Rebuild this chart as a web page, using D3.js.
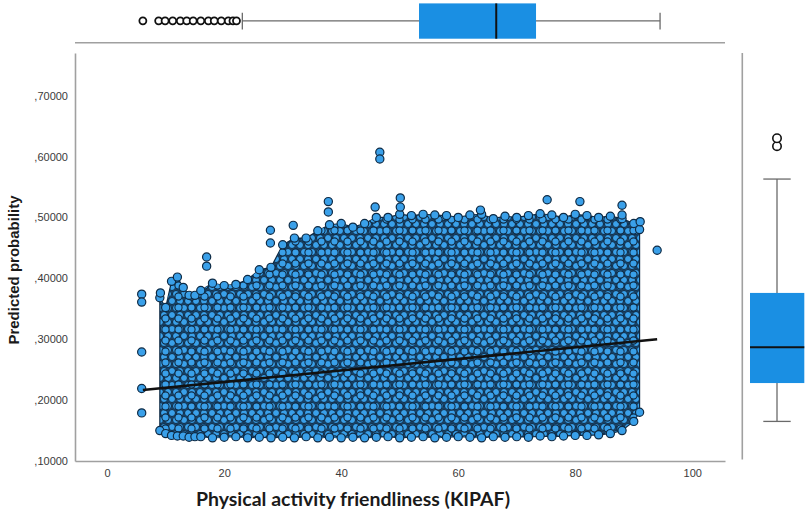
<!DOCTYPE html>
<html>
<head>
<meta charset="utf-8">
<script src="https://cdn.jsdelivr.net/npm/d3@7"></script>
<style>
  body { margin: 0; background: #fff; }
  svg.vis { display: block; font-family: "Liberation Sans", Arial, sans-serif; }
</style>
</head>
<body>
<svg class="vis" width="810" height="522"></svg>
<script>

// ---- values ----

const xTicks = [0, 20, 40, 60, 80, 100];
const yTicks = [0.1, 0.2, 0.3, 0.4, 0.5, 0.6, 0.7];

// dense cloud of cases: per KIPAF column, highest and lowest predicted probability
const cloudX = [9, 10, 11, 12, 13, 14, 15, 16, 18, 20, 22, 24, 26, 28, 30, 32, 34, 36, 38, 40,
                42, 44, 46, 48, 50, 52, 54, 56, 58, 60, 62, 64, 66, 68, 70, 72, 74, 76, 78, 80,
                82, 84, 86, 88, 90, 91];
const cloudTop = [0.368, 0.352, 0.395, 0.402, 0.385, 0.372, 0.372, 0.380, 0.392, 0.388, 0.390, 0.398,
                  0.414, 0.418, 0.455, 0.466, 0.466, 0.478, 0.488, 0.490, 0.484, 0.490, 0.500, 0.500,
                  0.505, 0.503, 0.505, 0.504, 0.503, 0.500, 0.504, 0.505, 0.498, 0.502, 0.500, 0.503,
                  0.506, 0.504, 0.500, 0.505, 0.503, 0.500, 0.502, 0.498, 0.490, 0.480];
const cloudBottom = [0.150, 0.145, 0.142, 0.141, 0.141, 0.139, 0.140, 0.140, 0.138, 0.139, 0.140, 0.138,
                     0.139, 0.138, 0.139, 0.138, 0.140, 0.138, 0.139, 0.138, 0.139, 0.138, 0.139, 0.140,
                     0.138, 0.139, 0.140, 0.138, 0.139, 0.140, 0.139, 0.138, 0.140, 0.139, 0.140, 0.139,
                     0.141, 0.140, 0.141, 0.142, 0.142, 0.143, 0.145, 0.150, 0.165, 0.180];

// single cases standing out of the cloud
const loneX = [5.9, 5.9, 5.9, 5.9, 5.9, 9.1, 17.0, 17.0, 27.9, 27.9, 31.8, 37.8, 37.8, 46.6, 46.6,
               45.8, 50.1, 50.1, 63.8, 75.2, 80.8, 88.0, 88.0, 91.1, 94.0];
const loneY = [0.374, 0.361, 0.279, 0.219, 0.179, 0.376, 0.435, 0.420, 0.479, 0.458, 0.487, 0.526,
               0.509, 0.607, 0.596, 0.517, 0.532, 0.517, 0.512, 0.529, 0.526, 0.520, 0.504, 0.493, 0.446];

// linear fit line
const fitX = [6.1, 94.0];
const fitY = [0.2166, 0.2998];

// marginal boxplots: [lower whisker, q1, median, q3, upper whisker]
const kipafStats = [23.1, 53.3, 66.5, 73.3, 94.5];
const kipafOutliers = [6.1, 8.8, 9.9, 11.2, 12.5, 13.6, 14.7, 16.0, 17.3, 18.3, 19.5, 20.7, 21.5, 22.1];
const probStats = [0.165, 0.228, 0.287, 0.376, 0.563];
const probOutliers = [0.617, 0.630];

const xTitle = "Physical activity friendliness (KIPAF)";
const yTitle = "Predicted probability";


const vis = {

    dims: {
        w: 810,
        h: 522,
        left: 75,
        right: 725,
        top: 53,
        bottom: 461
    },

    colors: {
        dot: "#3aa0e9",
        dotLine: "#0e2a44",
        cloudBg: "#1a4266",
        box: "#1a8fe3",
        whisker: "#6a6a6a",
        axis: "#a0a0a0",
        text: "#3a3a3a"
    },

    sels: {},

    f: {

        scales: function() {
            const d = vis.dims;
            vis.x = d3.scaleLinear().domain([-5.5, 105.6]).range([d.left, d.right]);
            vis.y = d3.scaleLinear().domain([0.1, 0.77]).range([d.bottom, d.top]);
        },

        fmt: function(v) {
            // SPSS style ",70000"
            return d3.format(".5f")(v).replace("0.", ",");
        }

    },

    draw: {

        // two overlapping dot textures, so the cloud does not look like a plain grid
        defs: function() {
            const c = vis.colors;
            const defs = vis.sels.svg.append("defs");

            const patA = defs.append("pattern")
                .attr("id", "dotsA")
                .attr("patternUnits", "userSpaceOnUse")
                .attr("width", 8)
                .attr("height", 14);

            patA.append("rect")
                .attr("width", 8)
                .attr("height", 14)
                .attr("fill", c.cloudBg);

            patA.selectAll("circle")
                .data([[0, 0], [8, 0], [4, 7], [0, 14], [8, 14]])
                .join("circle")
                .attr("cx", d => d[0])
                .attr("cy", d => d[1])
                .attr("r", 3.5)
                .attr("fill", c.dot)
                .attr("stroke", c.dotLine)
                .attr("stroke-width", 1);

            const patB = defs.append("pattern")
                .attr("id", "dotsB")
                .attr("patternUnits", "userSpaceOnUse")
                .attr("width", 13)
                .attr("height", 11)
                .attr("patternTransform", "translate(3,5)");

            patB.append("circle")
                .attr("cx", 6.5)
                .attr("cy", 5.5)
                .attr("r", 3.6)
                .attr("fill", c.dot)
                .attr("stroke", c.dotLine)
                .attr("stroke-width", 1.1);
        },

        axes: function() {
            const c = vis.colors;
            const svg = vis.sels.svg;

            const gx = svg.append("g")
                .attr("transform", `translate(0,${vis.dims.bottom})`)
                .call(d3.axisBottom(vis.x).tickValues(xTicks).tickSize(0).tickPadding(8));

            const gy = svg.append("g")
                .attr("transform", `translate(${vis.dims.left},0)`)
                .call(d3.axisLeft(vis.y).tickValues(yTicks).tickFormat(vis.f.fmt).tickSize(0).tickPadding(7));

            [gx, gy].forEach(g => {
                g.select(".domain").attr("stroke", c.axis).attr("stroke-width", 1.6);
                g.selectAll("text")
                    .attr("fill", c.text)
                    .style("font-size", "11px")
                    .style("font-family", "'Liberation Sans', Arial, sans-serif");
            });

            svg.append("text")
                .attr("x", 353)
                .attr("y", 506)
                .attr("text-anchor", "middle")
                .attr("textLength", 314)
                .attr("lengthAdjust", "spacingAndGlyphs")
                .attr("fill", "#1a1a1a")
                .style("font-family", "Lato, 'Open Sans', sans-serif")
                .style("font-weight", "bold")
                .style("font-size", "18px")
                .text(xTitle);

            svg.append("text")
                .attr("transform", "translate(19,270) rotate(-90)")
                .attr("text-anchor", "middle")
                .attr("fill", "#1a1a1a")
                .style("font-weight", "bold")
                .style("font-size", "15px")
                .text(yTitle);
        },

        scatter: function() {
            const c = vis.colors;
            const x = vis.x, y = vis.y;
            const svg = vis.sels.svg;

            const cloud = cloudX.map((v, i) => ({ x: v, top: cloudTop[i], bottom: cloudBottom[i] }));

            const area = d3.area()
                .x(d => x(d.x))
                .y0(d => y(d.bottom))
                .y1(d => y(d.top));

            svg.append("path")
                .datum(cloud)
                .attr("d", area)
                .attr("fill", "url(#dotsA)")
                .attr("stroke", c.dotLine)
                .attr("stroke-width", 1.2);

            svg.append("path")
                .datum(cloud)
                .attr("d", area)
                .attr("fill", "url(#dotsB)");

            // edge cases of each column
            const edge = cloud.flatMap(d => [[d.x, d.top], [d.x, d.bottom]]);
            const lone = loneX.map((v, i) => [v, loneY[i]]);

            svg.append("g")
                .selectAll("circle")
                .data(edge.concat(lone))
                .join("circle")
                .attr("cx", d => x(d[0]))
                .attr("cy", d => y(d[1]))
                .attr("r", 4.1)
                .attr("fill", c.dot)
                .attr("stroke", c.dotLine)
                .attr("stroke-width", 1.2);

            svg.append("path")
                .datum(fitX.map((v, i) => [v, fitY[i]]))
                .attr("d", d3.line().x(d => x(d[0])).y(d => y(d[1])))
                .attr("fill", "none")
                .attr("stroke", "#111")
                .attr("stroke-width", 2.6);
        },

        topBox: function() {
            const c = vis.colors;
            const x = vis.x;
            const g = vis.sels.svg.append("g");
            const s = kipafStats;
            const mid = 20.8;

            g.append("line")
                .attr("x1", vis.dims.left).attr("x2", vis.dims.right)
                .attr("y1", 42.7).attr("y2", 42.7)
                .attr("stroke", c.axis).attr("stroke-width", 1.6);

            g.append("line")
                .attr("x1", x(s[0])).attr("x2", x(s[4]))
                .attr("y1", mid).attr("y2", mid)
                .attr("stroke", c.whisker).attr("stroke-width", 1.3);

            g.selectAll("line.cap")
                .data([s[0], s[4]])
                .join("line")
                .attr("class", "cap")
                .attr("x1", d => x(d)).attr("x2", d => x(d))
                .attr("y1", 12.8).attr("y2", 29.6)
                .attr("stroke", c.whisker).attr("stroke-width", 1.3);

            g.append("rect")
                .attr("x", x(s[1]))
                .attr("width", x(s[3]) - x(s[1]))
                .attr("y", 3.4)
                .attr("height", 35.3)
                .attr("fill", c.box);

            g.append("line")
                .attr("x1", x(s[2])).attr("x2", x(s[2]))
                .attr("y1", 3.4).attr("y2", 38.7)
                .attr("stroke", "#111").attr("stroke-width", 2);

            g.selectAll("circle")
                .data(kipafOutliers)
                .join("circle")
                .attr("cx", d => x(d))
                .attr("cy", mid)
                .attr("r", 3.5)
                .attr("fill", "#fff")
                .attr("stroke", "#111")
                .attr("stroke-width", 1.8);
        },

        rightBox: function() {
            const c = vis.colors;
            const y = vis.y;
            const g = vis.sels.svg.append("g");
            const s = probStats;
            const mid = 777;

            g.append("line")
                .attr("x1", 742.3).attr("x2", 742.3)
                .attr("y1", vis.dims.top).attr("y2", 459.5)
                .attr("stroke", c.axis).attr("stroke-width", 1.6);

            g.append("line")
                .attr("x1", mid).attr("x2", mid)
                .attr("y1", y(s[0])).attr("y2", y(s[4]))
                .attr("stroke", c.whisker).attr("stroke-width", 1.3);

            g.selectAll("line.cap")
                .data([s[0], s[4]])
                .join("line")
                .attr("class", "cap")
                .attr("x1", 763.3).attr("x2", 790.7)
                .attr("y1", d => y(d)).attr("y2", d => y(d))
                .attr("stroke", c.whisker).attr("stroke-width", 1.3);

            g.append("rect")
                .attr("x", 750)
                .attr("width", 54.3)
                .attr("y", y(s[3]))
                .attr("height", y(s[1]) - y(s[3]))
                .attr("fill", c.box);

            g.append("line")
                .attr("x1", 750).attr("x2", 804.3)
                .attr("y1", y(s[2])).attr("y2", y(s[2]))
                .attr("stroke", "#111").attr("stroke-width", 2);

            g.selectAll("circle")
                .data(probOutliers)
                .join("circle")
                .attr("cx", mid)
                .attr("cy", d => y(d))
                .attr("r", 4.2)
                .attr("fill", "#fff")
                .attr("stroke", "#111")
                .attr("stroke-width", 1.6);
        }

    },

    control: {

        init: function() {
            vis.sels.svg = d3.select("svg.vis");
            vis.f.scales();
            vis.draw.defs();
            vis.draw.topBox();
            vis.draw.rightBox();
            vis.draw.scatter();
            vis.draw.axes();
        }

    }

};

vis.control.init();
</script>
</body>
</html>
